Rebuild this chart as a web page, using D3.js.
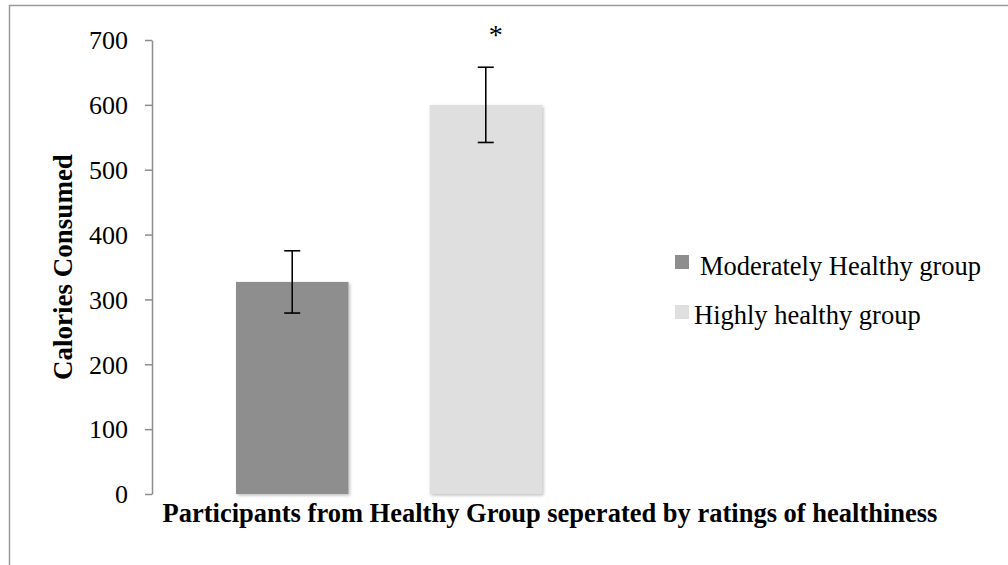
<!DOCTYPE html>
<html>
<head>
<meta charset="utf-8">
<script src="https://cdn.jsdelivr.net/npm/d3@7"></script>
<style>
  html, body { margin: 0; padding: 0; background: #fff; }
  svg { display: block; }
  text { font-family: "Liberation Serif", "Times New Roman", serif; fill: #000; }
</style>
</head>
<body>
<svg id="chart" width="1008" height="565"></svg>
<script>
const categories = ["Participants from Healthy Group seperated by ratings of healthiness"];
const seriesNames = ["Moderately Healthy group", "Highly healthy group"];
const seriesValues = [327, 600];
const seriesErrors = [48, 58];
const seriesColors = ["#8e8e8e", "#dfdfdf"];
const significance = ["", "*"];
const yTicks = [0, 100, 200, 300, 400, 500, 600, 700];
const yTitle = "Calories Consumed";

const svg = d3.select("#chart");

// frame
svg.append("rect").attr("x", 9.5).attr("y", 5.5).attr("width", 1010).attr("height", 600)
  .attr("fill", "none").attr("stroke", "#9a9a9a").attr("stroke-width", 1.5);

const defs = svg.append("defs");
const f = defs.append("filter").attr("id", "shadow").attr("x", "-10%").attr("y", "-10%").attr("width", "130%").attr("height", "130%");
f.append("feDropShadow").attr("dx", 1.5).attr("dy", 1.5).attr("stdDeviation", 1.5).attr("flood-color", "#000").attr("flood-opacity", 0.25);

const plot = { left: 152, right: 626, top: 40, bottom: 494 };

const y = d3.scaleLinear().domain([0, 700]).range([plot.bottom, plot.top]);
const x0 = d3.scaleBand().domain(categories).range([plot.left, plot.right]).paddingInner(0).paddingOuter(0.2745);
const x1 = d3.scaleBand().domain(seriesNames).range([0, x0.bandwidth()]).paddingInner(0.419).paddingOuter(0);

// y axis
const yAxis = d3.axisLeft(y).tickValues(yTicks).tickSize(7).tickSizeOuter(0).tickPadding(17);
const gy = svg.append("g").attr("transform", `translate(${plot.left},0)`).call(yAxis);
gy.select(".domain").attr("stroke", "#8c8c8c").attr("stroke-width", 1.5);
gy.selectAll(".tick line").attr("stroke", "#8c8c8c").attr("stroke-width", 1.5);
gy.selectAll(".tick text").style("font-family", "'Liberation Serif', 'Times New Roman', serif")
  .style("font-size", "26px").attr("fill", "#000").attr("dy", "0.34em");

// bars
const data = seriesNames.map((s, i) => ({ cat: categories[0], name: s, value: seriesValues[i], err: seriesErrors[i], color: seriesColors[i], sig: significance[i] }));
const g = svg.append("g");
g.selectAll("rect.bar").data(data).join("rect").attr("class", "bar")
  .attr("x", d => x0(d.cat) + x1(d.name))
  .attr("y", d => y(d.value))
  .attr("width", x1.bandwidth())
  .attr("height", d => y(0) - y(d.value))
  .attr("fill", d => d.color)
  .attr("filter", "url(#shadow)");

// error bars
const cx = d => x0(d.cat) + x1(d.name) + x1.bandwidth() / 2;
const eb = g.selectAll("g.err").data(data).join("g").attr("class", "err");
eb.append("line").attr("x1", cx).attr("x2", cx).attr("y1", d => y(d.value + d.err)).attr("y2", d => y(d.value - d.err))
  .attr("stroke", "#000").attr("stroke-width", 1.6);
eb.append("line").attr("x1", d => cx(d) - 8).attr("x2", d => cx(d) + 8).attr("y1", d => y(d.value + d.err)).attr("y2", d => y(d.value + d.err))
  .attr("stroke", "#000").attr("stroke-width", 1.6);
eb.append("line").attr("x1", d => cx(d) - 8).attr("x2", d => cx(d) + 8).attr("y1", d => y(d.value - d.err)).attr("y2", d => y(d.value - d.err))
  .attr("stroke", "#000").attr("stroke-width", 1.6);

// significance
g.selectAll("text.sig").data(data.filter(d => d.sig)).join("text").attr("class", "sig")
  .attr("x", d => cx(d) + 10).attr("y", d => y(d.value + d.err) - 23)
  .attr("text-anchor", "middle").style("font-size", "28px").text(d => d.sig);

// axis titles
svg.append("text").attr("x", 550).attr("y", 522).attr("text-anchor", "middle")
  .style("font-size", "26.5px").style("font-weight", "bold").text(categories[0]);
svg.append("text").attr("transform", `translate(72,${(plot.top + plot.bottom) / 2}) rotate(-90)`)
  .attr("text-anchor", "middle").style("font-size", "27px").style("font-weight", "bold").text(yTitle);

// legend
const legSquareY = [255, 305];
const legTextY = [275, 324];
const legTextX = [700, 694];
const leg = svg.append("g");
data.forEach((d, i) => {
  leg.append("rect").attr("x", 675).attr("y", legSquareY[i]).attr("width", 14).attr("height", 14).attr("fill", d.color);
  leg.append("text").attr("x", legTextX[i]).attr("y", legTextY[i]).style("font-size", "26.5px").text(d.name);
});
</script>
</body>
</html>
